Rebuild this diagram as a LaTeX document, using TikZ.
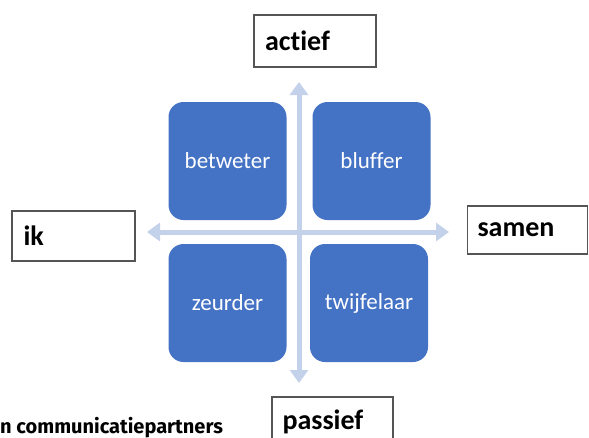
\documentclass[tikz,border=0pt]{standalone}
\usepackage{fontspec}
\setmainfont[Ligatures=NoCommon]{Carlito}
\newfontfamily\capfont{Fira Sans}
\usetikzlibrary{arrows.meta}

\definecolor{quadblue}{HTML}{4472C4}
\definecolor{axisblue}{HTML}{C3D1EA}
\definecolor{boxgray}{HTML}{555555}

\begin{document}
\begin{tikzpicture}[x=1pt,y=-1pt,
    quad/.style={fill=quadblue,rounded corners=15pt,minimum width=118pt,
      minimum height=118pt,text=white,font=\fontsize{23}{23}\selectfont},
    pole/.style={draw=boxgray,line width=1.5pt,minimum height=50pt,
      text width=100pt,inner xsep=10pt,align=left,
      font=\fontsize{28}{28}\selectfont\bfseries},
    axis/.style={draw=axisblue,line width=5pt,
      {Triangle[width=18pt,length=13pt]}-{Triangle[width=18pt,length=13pt]}}]

  \useasboundingbox (0,0) rectangle (589,437);
  \clip (0,0) rectangle (589,437);

  \coordinate (top) at (299,82);
  \coordinate (bot) at (299,383);
  \coordinate (left) at (147,232);
  \coordinate (right) at (449,232);

  \draw[axis] (bot) -- (top);
  \draw[axis] (left) -- (right);

  \node[quad] (betweter) at (227.5,161) {betweter};
  \node[quad] (bluffer) at (371.5,161) {bluffer};
  \node[quad] (zeurder) at (227.5,303) {zeurder};
  \node[quad] (twijfelaar) at (369,303) {twijfelaar};

  \node[pole,minimum width=122pt,minimum height=52pt] (actief) at (315,41) {actief};
  \node[pole,minimum width=123pt] (ik) at (73.5,236) {ik};
  \node[pole,minimum width=119pt,minimum height=48pt] (samen) at (527.5,230) {samen};
  \node[pole,minimum width=121pt] (passief) at (332.5,422) {passief};

  \node[anchor=base west,inner sep=0pt,font=\capfont\fontsize{20}{20}\selectfont\bfseries]
    (caption) at (0,433) {n communicatiepartners};

\end{tikzpicture}
\end{document}
